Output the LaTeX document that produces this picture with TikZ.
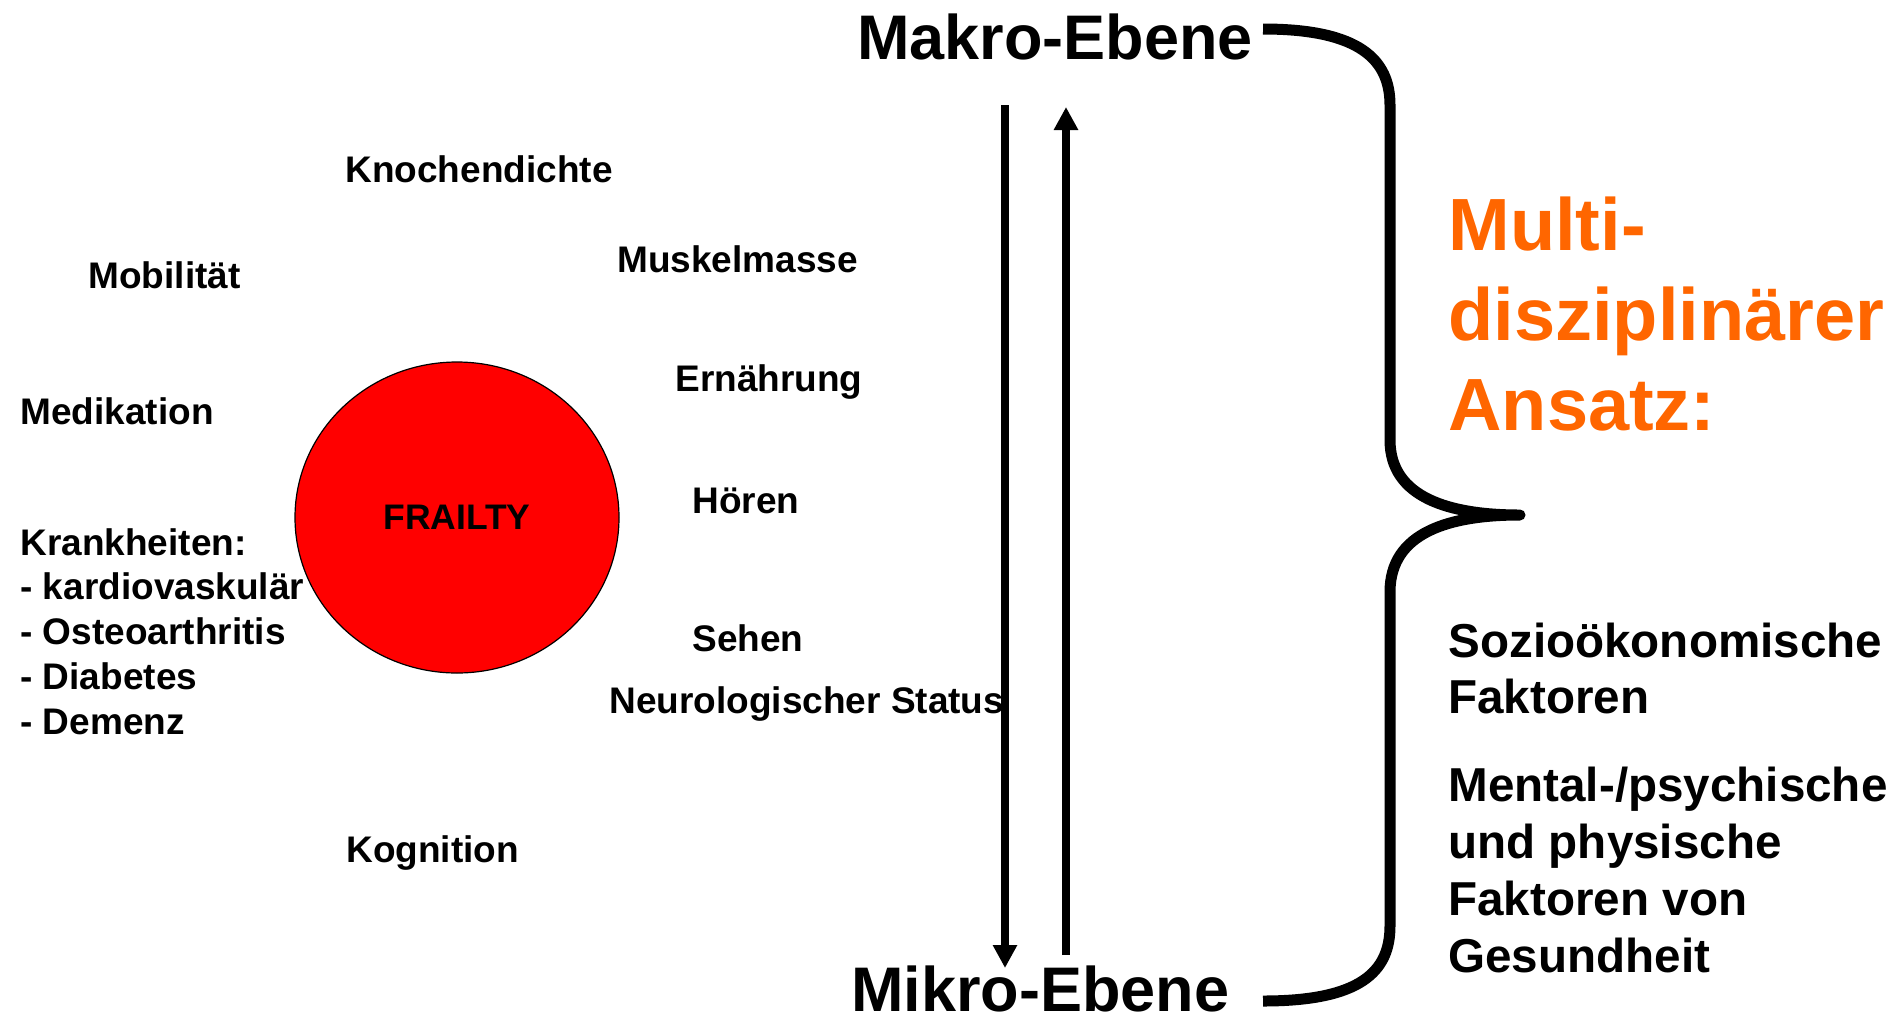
\documentclass[tikz,border=0pt]{standalone}
\usepackage{fontspec}
\setmainfont{Liberation Sans}
\usetikzlibrary{arrows.meta,shapes.geometric}

\definecolor{frailred}{HTML}{FF0000}
\definecolor{ansatzorange}{HTML}{FF6600}

\begin{document}
\begin{tikzpicture}[x=0.5pt, y=-0.5pt,
    factor/.style={anchor=base west, inner sep=0pt, font=\fontsize{18.5}{22}\selectfont\bfseries},
    level/.style={anchor=base west, inner sep=0pt, font=\fontsize{31.5}{38}\selectfont\bfseries},
    approach/.style={anchor=base west, inner sep=0pt, text=ansatzorange, font=\fontsize{37}{45}\selectfont\bfseries},
    aspect/.style={anchor=base west, inner sep=0pt, font=\fontsize{23.8}{29}\selectfont\bfseries},
    core/.style={ellipse, draw=black, line width=0.6pt, fill=frailred, inner sep=0pt,
        minimum width=162pt, minimum height=155.5pt, font=\fontsize{17.75}{21}\selectfont\bfseries},
    flow/.style={line width=4pt, -{Triangle[width=11.5pt, length=11.5pt]}},
    brace/.style={line width=5.5pt, line join=round}
]
\useasboundingbox (0,0) rectangle (1901,1024);

% frailty and its factors
\node [core] (frailty) at (457,517.5) {FRAILTY};

\node [factor] (knochen) at (345,182) {Knochendichte};
\node [factor] (mobil)   at (88,288)  {Mobilität};
\node [factor] (muskel)  at (617,272) {Muskelmasse};
\node [factor] (medik)   at (20,424)  {Medikation};
\node [factor] (ernaehr) at (675,391) {Ernährung};
\node [factor] (hoeren)  at (692,513) {Hören};
\node [factor] (sehen)   at (692,651) {Sehen};
\node [factor] (neuro)   at (609,713) {Neurologischer Status};
\node [factor] (kogn)    at (346,862) {Kognition};

\node [factor] (krank) at (20,555) {Krankheiten:};
\foreach \d [count=\i] in {kardiovaskulär, Osteoarthritis, Diabetes, Demenz}
    \node [factor] (krank\i) at (20,{555+44.8*\i}) {- \d};

% levels
\node [level] (makro) at (857,59)   {Makro-Ebene};
\node [level] (mikro) at (851,1011) {Mikro-Ebene};

\coordinate (downS) at (1005,105);
\coordinate (downE) at (1005,968);
\coordinate (upS)   at (1066,955);
\coordinate (upE)   at (1066,107);
\draw [flow] (downS) -- (downE);
\draw [flow] (upS) -- (upE);

% brace
\draw [brace] (1263,29) .. controls (1360,29) and (1390,60) .. (1390,105)
    -- (1390,440) .. controls (1390,498) and (1450,515) .. (1520,515)
    .. controls (1450,515) and (1390,532) .. (1390,592)
    -- (1390,926) .. controls (1390,972) and (1360,1001) .. (1263,1001);

% approach
\node [approach] (multi)  at (1448,250) {Multi-};
\node [approach] (diszip) at (1448,340) {disziplinärer};
\node [approach] (ansatz) at (1448,430) {Ansatz:};

\node [aspect] (sozio1)  at (1448,657) {Sozioökonomische};
\node [aspect] (sozio2)  at (1448,713) {Faktoren};
\node [aspect] (mental1) at (1448,801) {Mental-/psychische};
\node [aspect] (mental2) at (1448,858) {und physische};
\node [aspect] (mental3) at (1448,915) {Faktoren von};
\node [aspect] (mental4) at (1448,972) {Gesundheit};
\end{tikzpicture}
\end{document}
